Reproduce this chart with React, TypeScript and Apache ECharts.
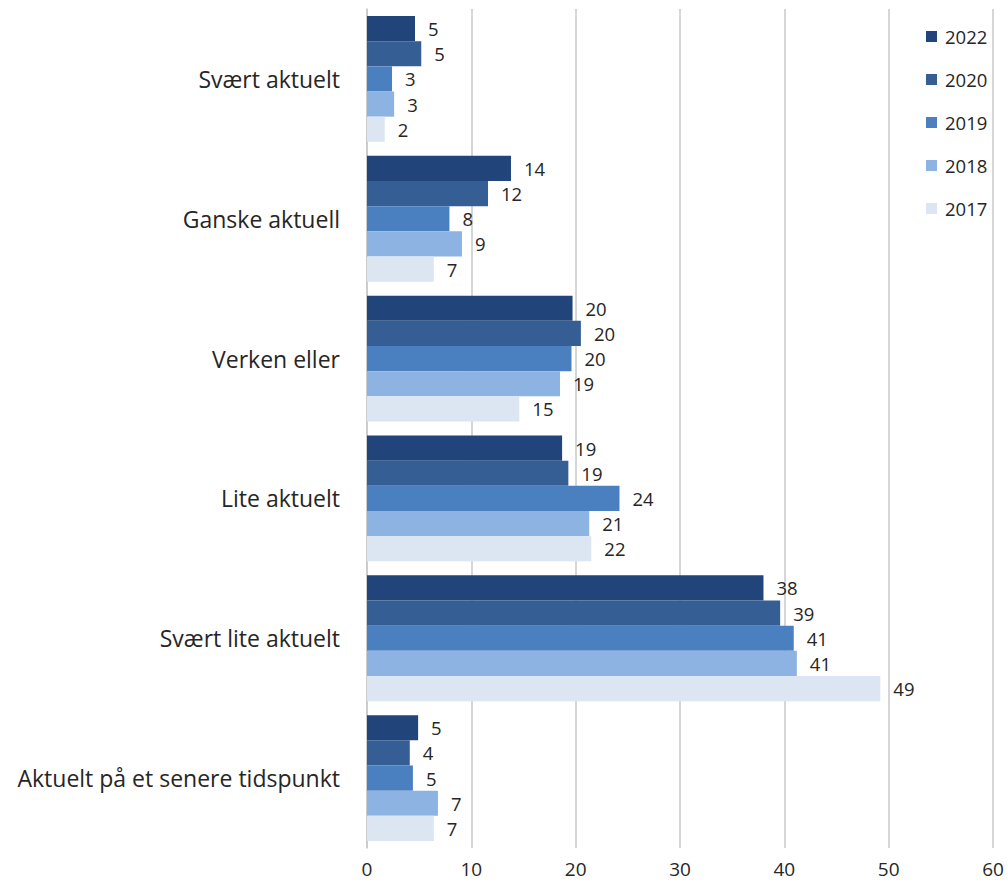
import React, { useEffect, useRef } from "react";
import * as echarts from "echarts";

const categories = [
  "Svært aktuelt",
  "Ganske aktuell",
  "Verken eller",
  "Lite aktuelt",
  "Svært lite aktuelt",
  "Aktuelt på et senere tidspunkt",
];
const seriesNames = ["2022", "2020", "2019", "2018", "2017"];
const colors = ["#21457a", "#345e94", "#4a7fc0", "#8db3e2", "#dce5f2"];

const values2022 = [4.6, 13.8, 19.7, 18.7, 38.0, 4.9];
const values2020 = [5.2, 11.6, 20.5, 19.3, 39.6, 4.1];
const values2019 = [2.4, 7.9, 19.6, 24.2, 40.9, 4.4];
const values2018 = [2.6, 9.1, 18.5, 21.3, 41.2, 6.8];
const values2017 = [1.7, 6.4, 14.6, 21.5, 49.2, 6.4];

const labels2022 = ["5", "14", "20", "19", "38", "5"];
const labels2020 = ["5", "12", "20", "19", "39", "4"];
const labels2019 = ["3", "8", "20", "24", "41", "5"];
const labels2018 = ["3", "9", "19", "21", "41", "7"];
const labels2017 = ["2", "7", "15", "22", "49", "7"];

const xTicks = [0, 10, 20, 30, 40, 50, 60];

const allValues = [values2022, values2020, values2019, values2018, values2017];
const allLabels = [labels2022, labels2020, labels2019, labels2018, labels2017];

const FONT = "'Open Sans', 'Noto Sans', sans-serif";

export default function App() {
  const ref = useRef<HTMLDivElement>(null);
  useEffect(() => {
    if (!ref.current) return;
    const chart = echarts.init(ref.current, undefined, { renderer: "svg" });
    chart.setOption({
      animation: false,
      backgroundColor: "#ffffff",
      legend: {
        orient: "vertical",
        left: 921,
        top: 19,
        itemWidth: 11,
        itemHeight: 11,
        itemGap: 18,
        icon: "rect",
        textStyle: {
          fontSize: 18.5,
          lineHeight: 25,
          color: "#262626",
          fontFamily: FONT,
          padding: [0, 0, 0, 3],
        },
        data: seriesNames,
      },
      grid: { left: 367, right: 15, top: 9, bottom: 34, containLabel: false },
      xAxis: {
        type: "value",
        min: xTicks[0],
        max: xTicks[xTicks.length - 1],
        interval: 10,
        axisLine: { show: false },
        axisTick: { show: false },
        splitLine: { show: true, lineStyle: { color: "#c9c9c9", width: 1.5 } },
        axisLabel: { fontSize: 19, color: "#262626", fontFamily: FONT, margin: 11 },
      },
      yAxis: {
        type: "category",
        inverse: true,
        data: categories,
        axisLine: { show: true, lineStyle: { color: "#c9c9c9", width: 1.5 } },
        axisTick: { show: false },
        axisLabel: { fontSize: 23, color: "#262626", fontFamily: FONT, margin: 27 },
      },
      series: seriesNames.map((name, i) => ({
        name,
        type: "bar",
        data: allValues[i],
        barGap: "0%",
        barCategoryGap: "10%",
        itemStyle: { color: colors[i] },
        label: {
          show: true,
          position: "right",
          distance: 13,
          fontSize: 18.5,
          color: "#262626",
          fontFamily: FONT,
          formatter: (p: any) => allLabels[i][p.dataIndex],
        },
      })),
    });
    return () => chart.dispose();
  }, []);
  return (
    <div
      ref={ref}
      style={{ position: "fixed", left: 0, top: 0, width: 1008, height: 882 }}
    />
  );
}
